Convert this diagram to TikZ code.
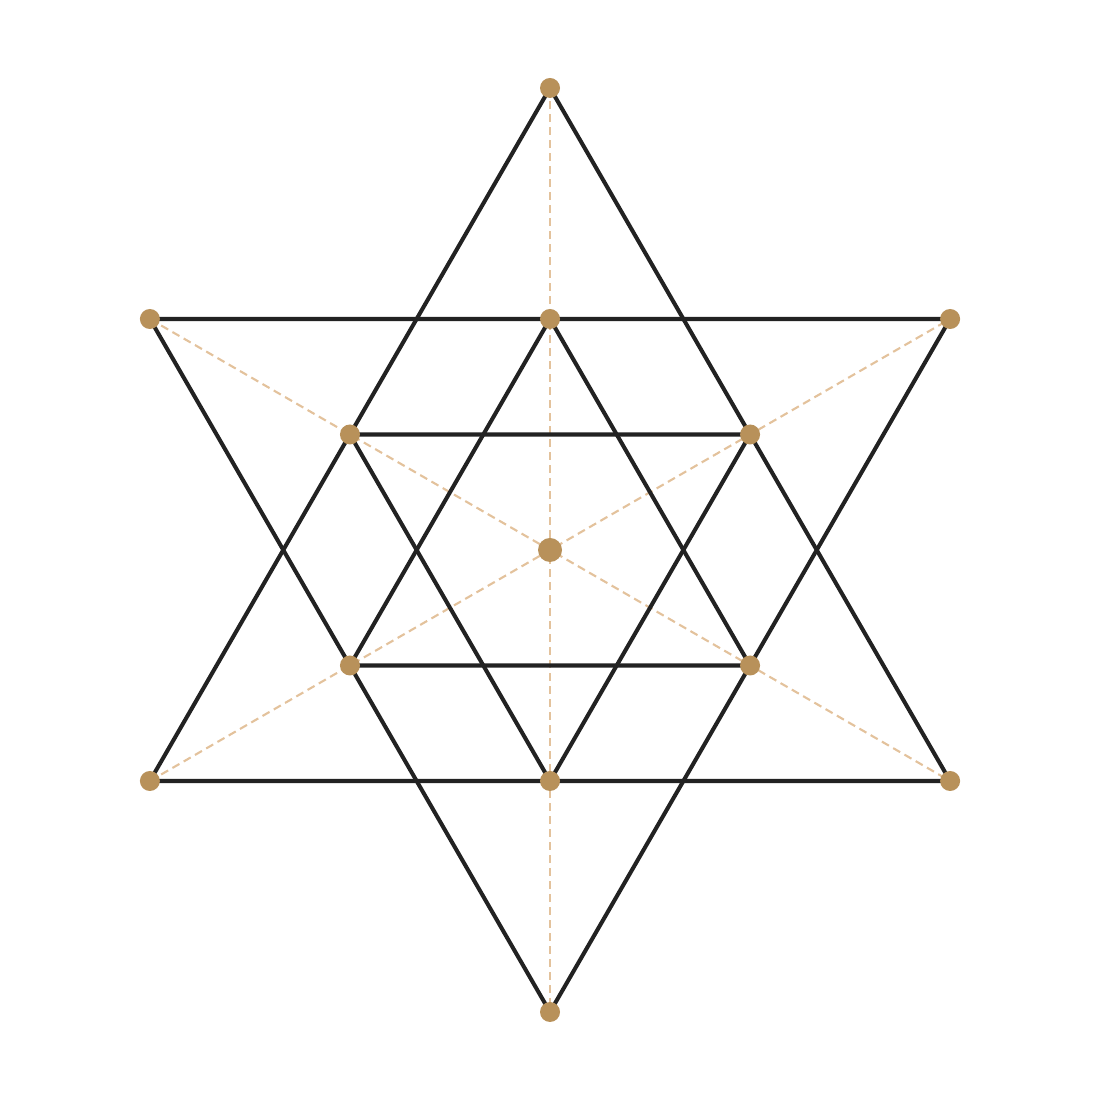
\documentclass[tikz,border=0pt]{standalone}
\usetikzlibrary{positioning}
\definecolor{dotbrown}{HTML}{B8915A}
\definecolor{axistan}{HTML}{E3C29C}
\definecolor{starline}{HTML}{222222}
\tikzset{
    starEdge/.style={draw=starline, line width=1.15pt, line cap=round, line join=round},
    axisEdge/.style={draw=axistan, line width=0.6pt, dash pattern=on 2.3pt off 1.4pt},
    vdot/.style={draw=none, fill=dotbrown, circle, inner sep=0pt, minimum size=0.2cm},
    cdot/.style={vdot, minimum size=0.24cm}
}
\begin{document}
\begin{tikzpicture}
    \def \R {4.62}
    \def \r {2.31}
    \useasboundingbox (0,0) rectangle (11,11);
    \begin{scope}[shift={(5.5,5.5)}]
    % outer hexagon points
    \foreach \s in {1,...,6}{
    \coordinate (o\s) at ({90+60*(\s-1)}:\R);}
    % inner hexagon points
    \foreach \s in {1,...,6}{
    \coordinate (i\s) at ({90+60*(\s-1)}:\r);}
    \coordinate (c) at (0,0);
    \end{scope}
    % axes
    \draw[axisEdge] (o1) -- (o4);
    \draw[axisEdge] (o2) -- (o5);
    \draw[axisEdge] (o3) -- (o6);
    % big star
    \draw[starEdge] (o1) -- (o3) -- (o5) -- cycle;
    \draw[starEdge] (o2) -- (o4) -- (o6) -- cycle;
    % small star
    \draw[starEdge] (i1) -- (i3) -- (i5) -- cycle;
    \draw[starEdge] (i2) -- (i4) -- (i6) -- cycle;
    \foreach \s in {1,...,6}{
    \node[vdot] (O\s) at (o\s) {};
    \node[vdot] (I\s) at (i\s) {};}
    \node[cdot] (C) at (c) {};
\end{tikzpicture}
\end{document}
